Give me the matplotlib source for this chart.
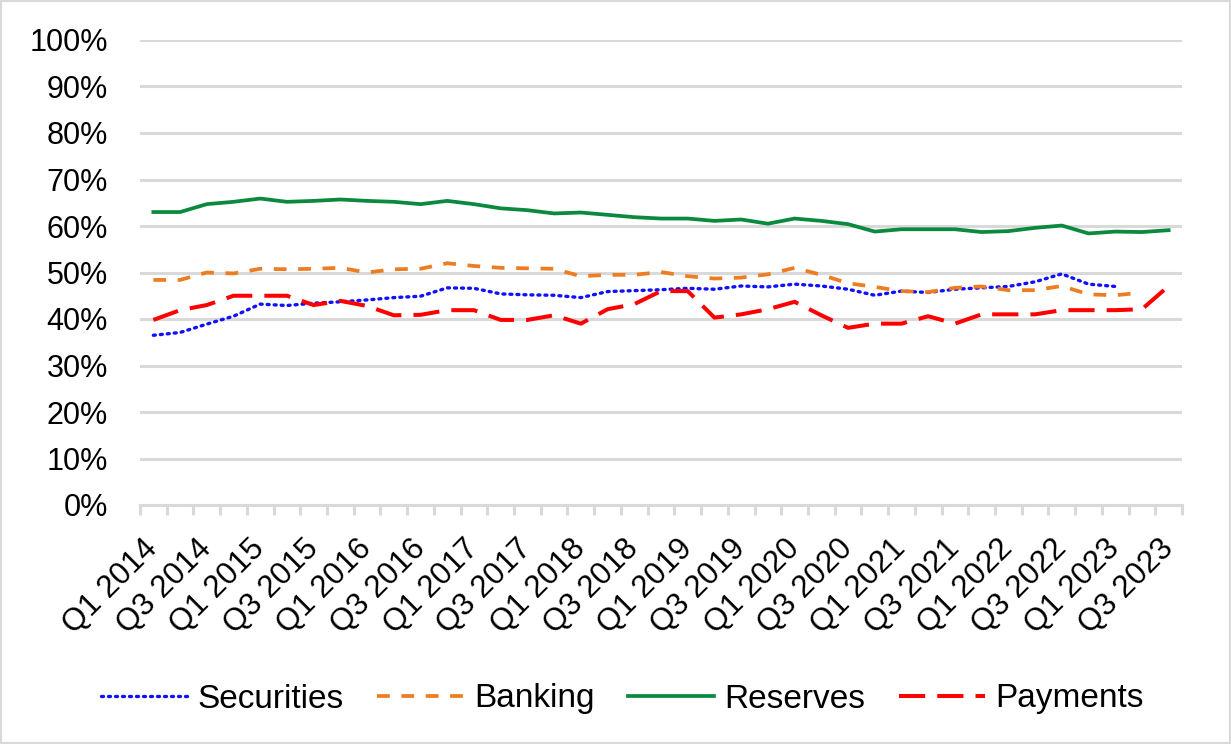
import matplotlib
matplotlib.use("Agg")
import matplotlib.pyplot as plt
from matplotlib.patches import Rectangle
from matplotlib.ticker import FixedLocator, FuncFormatter

plt.rcParams['font.family'] = ['Liberation Sans', 'DejaVu Sans']

quarters = [f"Q{q} {y}" for y in range(2014, 2024) for q in (1, 2, 3, 4)][:39]

securities = [36.5, 37.1, 38.9, 40.6, 43.2, 42.9, 43.4, 43.7, 44.1, 44.6,
              44.9, 46.7, 46.6, 45.4, 45.2, 45.1, 44.6, 45.9, 46.1, 46.3,
              46.6, 46.4, 47.1, 46.9, 47.5, 47.1, 46.4, 45.1, 46.0, 45.7,
              46.4, 46.7, 47.0, 48.0, 49.7, 47.5, 47.0]
banking = [48.4, 48.4, 50.0, 49.8, 50.8, 50.7, 50.8, 51.0, 50.0, 50.7,
           50.8, 52.0, 51.4, 51.0, 50.9, 50.8, 49.2, 49.5, 49.5, 50.1,
           49.2, 48.7, 48.9, 49.6, 51.0, 49.5, 47.7, 46.9, 46.0, 45.8,
           46.7, 47.0, 46.2, 46.2, 47.1, 45.3, 45.1, 45.7]
reserves = [63.0, 63.0, 64.7, 65.2, 65.9, 65.2, 65.4, 65.7, 65.4, 65.2,
            64.7, 65.4, 64.7, 63.8, 63.4, 62.7, 62.9, 62.4, 61.9, 61.6,
            61.6, 61.1, 61.4, 60.5, 61.6, 61.1, 60.4, 58.8, 59.3, 59.3,
            59.3, 58.7, 58.9, 59.6, 60.1, 58.4, 58.8, 58.7, 59.1]
payments = [39.8, 41.9, 43.0, 45.0, 45.0, 45.0, 43.0, 43.9, 42.8, 40.8,
            40.9, 41.9, 41.9, 39.8, 39.8, 40.8, 39.0, 42.1, 43.2, 46.0,
            46.0, 40.3, 41.0, 42.1, 43.7, 40.8, 38.1, 39.0, 39.0, 40.6,
            39.0, 41.0, 41.0, 41.0, 41.9, 41.9, 41.9, 42.1, 47.1]

grid_c = '#d9d9d9'
fig = plt.figure(figsize=(12.31, 7.44), dpi=100)
ax = fig.add_axes([140/1231, 1-505/744, (1182-140)/1231, (505-40)/744])

ax.plot(range(len(securities)), securities, color='#1010ff', lw=2.4,
        linestyle=(0, (0.6, 1.5)), dash_capstyle='round', label='Securities', zorder=3)
ax.plot(range(len(banking)), banking, color='#ed7d22', lw=2.7,
        linestyle=(0, (3.4, 3.1)), label='Banking', zorder=3)
ax.plot(range(len(reserves)), reserves, color='#0b8a3e', lw=2.7,
        linestyle='-', label='Reserves', zorder=3)
ax.plot(range(len(payments)), payments, color='#ff0000', lw=2.9,
        linestyle=(0, (6.5, 3.0)), label='Payments', zorder=3)

ax.set_xlim(-0.5, len(quarters) - 0.5)
ax.set_ylim(0, 100)
ax.set_yticks(range(0, 101, 10))
ax.yaxis.set_major_formatter(FuncFormatter(lambda v, p: f"{int(v)}%"))
ax.grid(axis='y', color=grid_c, lw=2.2)
ax.set_axisbelow(True)
for s in ('left', 'right', 'top'):
    ax.spines[s].set_visible(False)
ax.spines['bottom'].set_color(grid_c)
ax.spines['bottom'].set_linewidth(2.2)
ax.tick_params(axis='y', length=0, labelsize=22, pad=23)

label_pos = list(range(0, len(quarters), 2))
ax.set_xticks(label_pos)
ax.set_xticklabels([quarters[i] for i in label_pos], rotation=45, ha='right',
                   va='center', rotation_mode='anchor', fontsize=22.5)
ax.tick_params(axis='x', which='major', length=0, pad=28)
ax.xaxis.set_minor_locator(FixedLocator([i - 0.5 for i in range(len(quarters) + 1)]))
ax.tick_params(axis='x', which='minor', length=7, width=2.2, color=grid_c, direction='out')

fig.legend(loc='center', bbox_to_anchor=(0.5 + 7/1231, 1 - 699/744), ncol=4, frameon=False,
           fontsize=24, handlelength=2.6, handletextpad=0.3, columnspacing=1.0)

fig.add_artist(Rectangle((0, 0), 1, 1, transform=fig.transFigure, fill=False,
                         ec=grid_c, lw=3))
fig.savefig('out.png', dpi=100)
